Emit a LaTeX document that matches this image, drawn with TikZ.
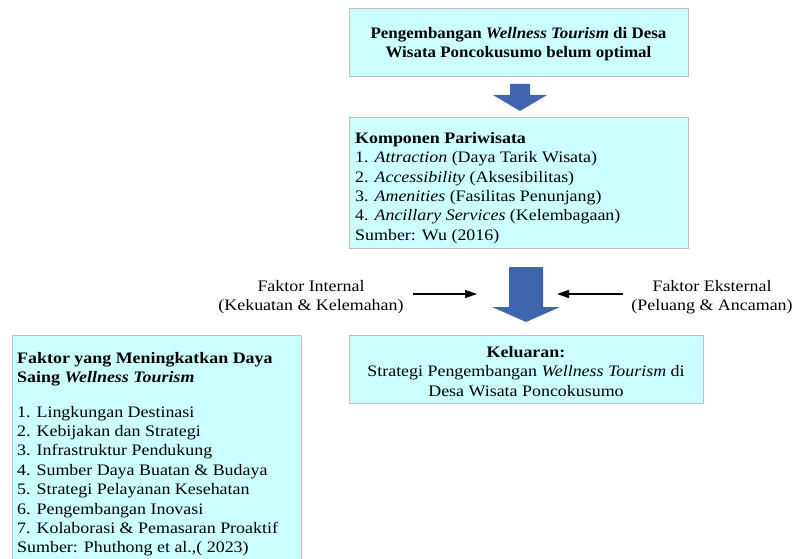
\documentclass[tikz,border=0pt]{standalone}
\usepackage{fontspec}
\setmainfont{Liberation Serif}[FakeStretch=1.12, ItalicFont={Liberation Serif Italic}, BoldFont={Liberation Serif Bold}, BoldItalicFont={Liberation Serif Bold Italic}]
\newfontfamily\topfont{Liberation Serif}[FakeStretch=1.06, ItalicFont={Liberation Serif Italic}, BoldFont={Liberation Serif Bold}, BoldItalicFont={Liberation Serif Bold Italic}]
\usetikzlibrary{arrows.meta}
\definecolor{boxfill}{RGB}{204,255,255}
\definecolor{boxline}{RGB}{191,191,191}
\definecolor{arrblue}{RGB}{65,100,175}
\begin{document}
\begin{tikzpicture}[x=1pt,y=-1pt,
  box/.style={draw=boxline, fill=boxfill, line width=1.2pt, inner sep=0pt, anchor=north west},
  txt/.style={inner sep=0pt, font=\fontsize{16}{19.4}\selectfont},
  txtb/.style={inner sep=0pt, font=\topfont\fontsize{16}{19.4}\selectfont\bfseries},
  blockarrow/.style={fill=arrblue, draw=none},
  thinarrow/.style={-{Triangle[length=12pt,width=8pt]}, line width=1.5pt}]
\useasboundingbox (0,0) rectangle (795,559);
% boxes
\node[box, minimum width=339pt, minimum height=68pt] (top) at (349,8) {};
\node[box, minimum width=339pt, minimum height=131pt] (comp) at (349,117) {};
\node[box, minimum width=354pt, minimum height=68pt] (kel) at (349,335) {};
\node[box, minimum width=289pt, minimum height=240pt] (fak) at (12,335) {};
% texts
\node[txtb, align=center, anchor=north] (toptxt) at (518.5,27) {Pengembangan \textit{Wellness Tourism} di Desa\\Wisata Poncokusumo belum optimal};
\node[txt, align=left, anchor=north west] (comptxt) at (355,132) {\textbf{Komponen Pariwisata}\\1. \textit{Attraction} (Daya Tarik Wisata)\\2. \textit{Accessibility} (Aksesibilitas)\\3. \textit{Amenities} (Fasilitas Penunjang)\\4. \textit{Ancillary Services} (Kelembagaan)\\Sumber: Wu (2016)};
\node[txt, align=center, anchor=north] (intL) at (311,280) {Faktor Internal\\(Kekuatan \& Kelemahan)};
\node[txt, align=center, anchor=north] (extL) at (712,280) {Faktor Eksternal\\(Peluang \& Ancaman)};
\node[txt, align=center, anchor=north] (keltxt) at (526,346) {\textbf{Keluaran:}\\Strategi Pengembangan \textit{Wellness Tourism} di\\Desa Wisata Poncokusumo};
\node[txt, align=left, anchor=north west] (faktxt) at (17,352) {\textbf{Faktor yang Meningkatkan Daya}\\\textbf{Saing \textit{Wellness Tourism}}\\[15pt]1. Lingkungan Destinasi\\2. Kebijakan dan Strategi\\3. Infrastruktur Pendukung\\4. Sumber Daya Buatan \& Budaya\\5. Strategi Pelayanan Kesehatan\\6. Pengembangan Inovasi\\7. Kolaborasi \& Pemasaran Proaktif\\Sumber: Phuthong et al.,( 2023)};
% block arrows
\fill[blockarrow] (510,84) -- (530,84) -- (530,95) -- (547,95) -- (520,111) -- (493,95) -- (510,95) -- cycle;
\fill[blockarrow] (509,267) -- (543,267) -- (543,307) -- (560,307) -- (526,322) -- (492,307) -- (509,307) -- cycle;
% thin arrows
\coordinate (inA) at (413,294);
\coordinate (inB) at (477,294);
\coordinate (exA) at (623,294);
\coordinate (exB) at (557,294);
\draw[thinarrow] (inA) -- (inB);
\draw[thinarrow] (exA) -- (exB);
\end{tikzpicture}
\end{document}
